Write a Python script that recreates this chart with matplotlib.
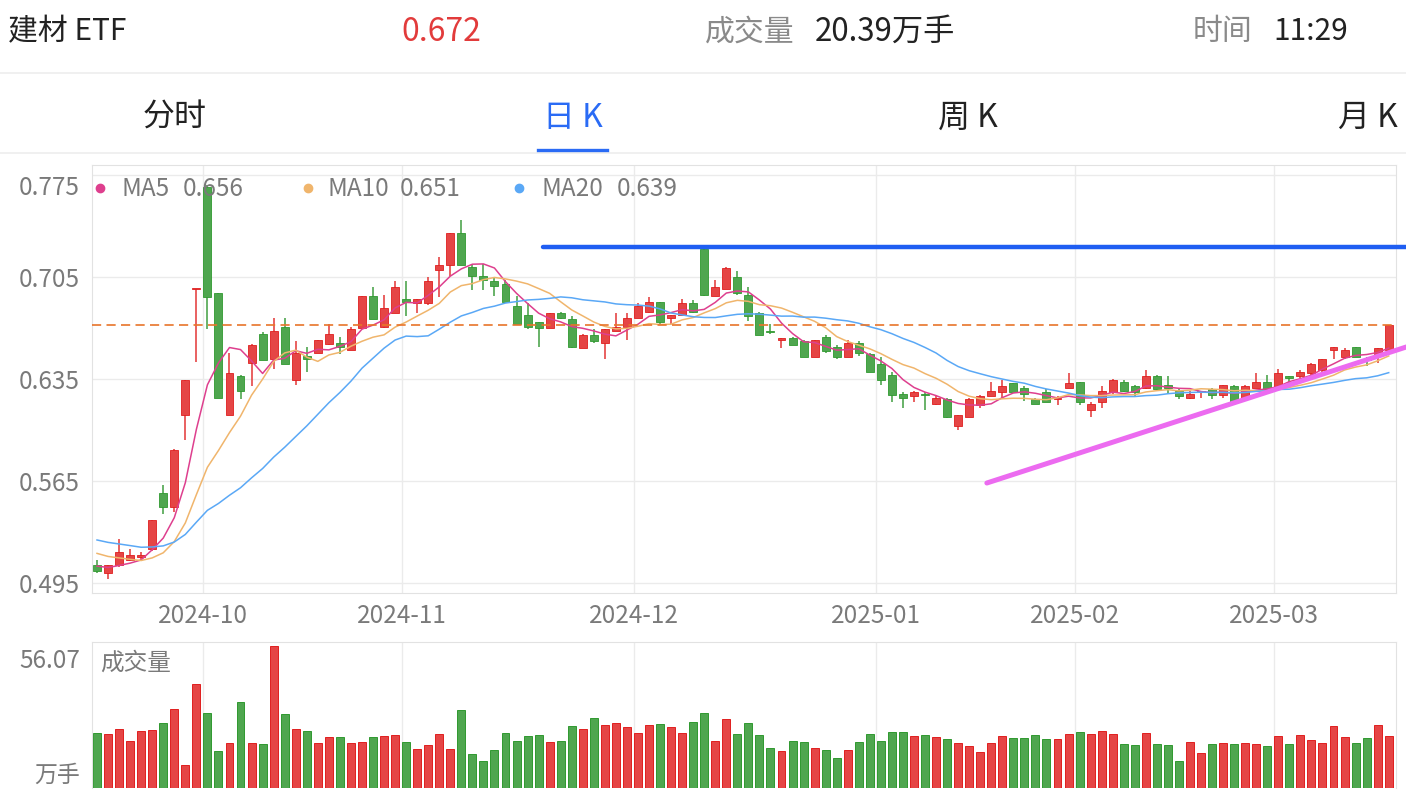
import pandas as pd
import matplotlib.pyplot as plt
from matplotlib.lines import Line2D
from matplotlib.transforms import Affine2D

plt.rcParams['font.family'] = ['Noto Sans CJK SC', 'DejaVu Sans']

#  Daily K data (2024-09-13 .. 2025-03-17), index = trading day

opens = [
    0.507, 0.502, 0.507, 0.511, 0.513, 0.518, 0.557, 0.547, 0.610, 0.697,
    0.767, 0.694, 0.610, 0.637, 0.646, 0.666, 0.649, 0.671, 0.634, 0.651,
    0.653, 0.659, 0.660, 0.655, 0.670, 0.692, 0.671, 0.680, 0.690, 0.687,
    0.687, 0.710, 0.713, 0.735, 0.712, 0.706, 0.702, 0.700, 0.685, 0.679,
    0.674, 0.670, 0.680, 0.676, 0.656, 0.665, 0.660, 0.668, 0.671, 0.677,
    0.681, 0.688, 0.677, 0.679, 0.687, 0.724, 0.692, 0.697, 0.705, 0.693,
    0.680, 0.668, 0.662, 0.663, 0.661, 0.650, 0.664, 0.657, 0.650, 0.660,
    0.652, 0.645, 0.638, 0.625, 0.623, 0.625, 0.618, 0.621, 0.603, 0.609,
    0.617, 0.623, 0.626, 0.632, 0.629, 0.621, 0.626, 0.621, 0.629, 0.633,
    0.614, 0.619, 0.626, 0.633, 0.630, 0.629, 0.637, 0.631, 0.627, 0.622,
    0.626, 0.628, 0.624, 0.630, 0.622, 0.629, 0.633, 0.629, 0.637, 0.637,
    0.639, 0.641, 0.655, 0.650, 0.657, 0.649, 0.652, 0.655]
highs = [
    0.511, 0.507, 0.525, 0.518, 0.516, 0.538, 0.562, 0.587, 0.634, 0.697,
    0.768, 0.694, 0.653, 0.638, 0.659, 0.667, 0.677, 0.677, 0.661, 0.657,
    0.662, 0.673, 0.664, 0.671, 0.692, 0.698, 0.693, 0.702, 0.702, 0.690,
    0.705, 0.719, 0.735, 0.744, 0.714, 0.714, 0.705, 0.703, 0.692, 0.687,
    0.674, 0.680, 0.681, 0.678, 0.666, 0.669, 0.669, 0.680, 0.680, 0.687,
    0.691, 0.688, 0.679, 0.690, 0.689, 0.725, 0.703, 0.712, 0.709, 0.698,
    0.681, 0.673, 0.663, 0.664, 0.662, 0.662, 0.665, 0.658, 0.662, 0.661,
    0.653, 0.650, 0.640, 0.626, 0.627, 0.626, 0.624, 0.622, 0.610, 0.622,
    0.624, 0.633, 0.634, 0.632, 0.630, 0.622, 0.628, 0.623, 0.639, 0.633,
    0.619, 0.630, 0.635, 0.634, 0.631, 0.641, 0.638, 0.637, 0.628, 0.627,
    0.627, 0.629, 0.631, 0.631, 0.631, 0.639, 0.638, 0.642, 0.637, 0.641,
    0.646, 0.649, 0.657, 0.656, 0.657, 0.650, 0.656, 0.672]
lows = [
    0.502, 0.498, 0.506, 0.510, 0.510, 0.517, 0.542, 0.544, 0.593, 0.647,
    0.669, 0.622, 0.610, 0.621, 0.630, 0.648, 0.642, 0.645, 0.631, 0.640,
    0.653, 0.658, 0.652, 0.655, 0.670, 0.676, 0.670, 0.680, 0.678, 0.680,
    0.686, 0.691, 0.706, 0.713, 0.696, 0.696, 0.692, 0.688, 0.673, 0.669,
    0.657, 0.670, 0.676, 0.656, 0.656, 0.660, 0.649, 0.668, 0.662, 0.677,
    0.680, 0.673, 0.673, 0.678, 0.680, 0.692, 0.692, 0.697, 0.693, 0.675,
    0.665, 0.666, 0.656, 0.658, 0.650, 0.650, 0.653, 0.649, 0.650, 0.651,
    0.640, 0.631, 0.619, 0.615, 0.619, 0.614, 0.617, 0.608, 0.600, 0.609,
    0.615, 0.623, 0.621, 0.626, 0.620, 0.618, 0.619, 0.617, 0.629, 0.617,
    0.609, 0.615, 0.625, 0.626, 0.623, 0.628, 0.627, 0.625, 0.621, 0.621,
    0.622, 0.621, 0.622, 0.619, 0.622, 0.629, 0.627, 0.629, 0.631, 0.636,
    0.638, 0.640, 0.649, 0.649, 0.650, 0.644, 0.646, 0.655]
closes = [
    0.503, 0.507, 0.516, 0.514, 0.514, 0.538, 0.547, 0.586, 0.634, 0.697,
    0.691, 0.622, 0.639, 0.627, 0.658, 0.648, 0.668, 0.645, 0.653, 0.649,
    0.662, 0.666, 0.657, 0.669, 0.692, 0.676, 0.684, 0.698, 0.688, 0.690,
    0.702, 0.713, 0.735, 0.713, 0.706, 0.703, 0.699, 0.688, 0.673, 0.671,
    0.670, 0.680, 0.677, 0.657, 0.665, 0.661, 0.669, 0.671, 0.677, 0.685,
    0.688, 0.674, 0.679, 0.687, 0.681, 0.693, 0.698, 0.711, 0.694, 0.678,
    0.665, 0.667, 0.663, 0.658, 0.650, 0.662, 0.654, 0.650, 0.660, 0.653,
    0.640, 0.634, 0.624, 0.622, 0.626, 0.624, 0.622, 0.609, 0.610, 0.621,
    0.623, 0.627, 0.630, 0.626, 0.625, 0.618, 0.619, 0.622, 0.632, 0.619,
    0.618, 0.627, 0.634, 0.627, 0.626, 0.637, 0.628, 0.629, 0.623, 0.625,
    0.627, 0.624, 0.631, 0.619, 0.630, 0.633, 0.628, 0.639, 0.636, 0.640,
    0.645, 0.649, 0.657, 0.655, 0.650, 0.648, 0.656, 0.672]
# 成交量 (万手)
volumes = [
    21.6, 21.1, 23.4, 18.7, 22.6, 23.0, 25.6, 31.0, 9.1, 40.8,
    29.6, 14.5, 17.9, 33.8, 17.8, 17.4, 56.07, 29.2, 23.4, 22.4,
    17.7, 19.9, 20.2, 17.7, 18.3, 19.9, 20.4, 20.7, 18.2, 15.2,
    16.9, 21.2, 15.3, 30.7, 13.3, 10.6, 14.9, 21.8, 18.5, 20.6,
    20.8, 18.1, 18.6, 24.4, 23.1, 27.6, 24.7, 25.5, 24.1, 21.5,
    24.8, 25.3, 24.0, 21.6, 26.0, 29.7, 18.7, 27.0, 21.1, 25.6,
    20.7, 15.8, 14.5, 18.7, 18.3, 15.7, 14.8, 12.0, 15.0, 18.2,
    21.1, 18.7, 21.9, 21.9, 20.4, 20.7, 20.1, 19.5, 17.9, 16.5,
    14.2, 17.9, 20.6, 19.8, 19.7, 20.7, 19.4, 19.4, 21.2, 22.2,
    21.2, 22.3, 21.4, 17.2, 16.8, 21.5, 17.2, 16.9, 10.7, 18.1,
    13.7, 17.5, 17.8, 17.2, 17.9, 17.5, 16.5, 20.3, 17.2, 20.7,
    19.1, 17.7, 24.5, 20.1, 17.7, 19.7, 24.7, 20.39]
# closes before the window, only used to warm up the moving averages
pre_closes = [0.540, 0.538, 0.536, 0.537, 0.534, 0.532, 0.533, 0.530, 0.529, 0.528,
              0.528, 0.526, 0.524, 0.522, 0.520, 0.512, 0.509, 0.506, 0.503]

month_labels = ["2024-10", "2024-11", "2024-12", "2025-01", "2025-02", "2025-03"]
month_first = [10, 28, 49, 71, 89, 107]
price_ticks = [0.495, 0.565, 0.635, 0.705, 0.775]
vol_max = 56.07
last_price = 0.672

# hand drawn lines
resist_level = 0.7256
resist_x = [40.4, 118.6]
trend_x = [80.6, 118.6]
trend_y = [0.5636, 0.657]

RED, RED_E = "#E54545", "#E01E1E"
GREEN, GREEN_E = "#4FA64F", "#2F992F"
GRAY = "#7A7A7A"
GRID = "#EBEBEB"

#  Moving averages

s = pd.Series(pre_closes + closes)
n0 = len(pre_closes)
ma = {k: s.rolling(k).mean().iloc[n0:].values for k in (5, 10, 20)}
ma_colors = {5: "#DE3F8E", 10: "#F0B56C", 20: "#5AA8F6"}

#  Figure

W, H = 1406, 802
fig = plt.figure(figsize=(W / 100, H / 100), dpi=100)
px = Affine2D().scale(1 / W, -1 / H).translate(0, 1) + fig.transFigure

xl = (-0.453, 117.66)
ax = fig.add_axes([92 / W, 1 - 593 / H, 1304 / W, 428 / H])
axv = fig.add_axes([92 / W, 1 - 788 / H, 1304 / W, 146 / H])

idx = list(range(len(closes)))
up = [c >= o for o, c in zip(opens, closes)]
fill = [RED if u else GREEN for u in up]
edge = [RED_E if u else GREEN_E for u in up]

# candles
ax.vlines(idx, lows, highs, colors=fill, lw=1.2, zorder=2)
body_low = [min(o, c) for o, c in zip(opens, closes)]
body_h = [max(abs(c - o), 0.0008) for o, c in zip(opens, closes)]
ax.bar(idx, body_h, bottom=body_low, width=0.72, color=fill, edgecolor=edge,
       linewidth=0.6, zorder=2)

for k in (5, 10, 20):
    ax.plot(idx, ma[k], color=ma_colors[k], lw=1.1, zorder=3)

ax.axhline(last_price, color="#E8742A", lw=1.2, ls=(0, (5.5, 3.2)), zorder=4)
ax.plot(resist_x, [resist_level] * 2, color="#1F5EF2", lw=3.2,
        solid_capstyle="round", clip_on=False, zorder=5)
ax.plot(trend_x, trend_y, color="#EC6BF0", lw=3.6, solid_capstyle="round",
        clip_on=False, zorder=5)

ax.set_xlim(xl)
ax.set_ylim(0.495 - 0.0069, 0.775 + 0.0069)
ax.set_yticks(price_ticks)
ax.set_yticklabels([f"{t:.3f}" for t in price_ticks])
ax.get_yticklabels()[-1].set_va("top")
ax.set_xticks([m - 0.4 for m in month_first])
ax.set_xticklabels(month_labels)
ax.tick_params(length=0, colors=GRAY, labelsize=17.5)
ax.tick_params(axis="y", pad=9)
ax.tick_params(axis="x", pad=7)
ax.grid(color=GRID, lw=1)
ax.set_axisbelow(True)
for sp in ax.spines.values():
    sp.set_color("#E2E2E2")

# volume
axv.bar(idx, volumes, width=0.72, color=fill, edgecolor=edge, linewidth=0.7)
axv.set_xlim(xl)
axv.set_ylim(0, vol_max * 146 / 142.3)
axv.set_xticks([m - 0.4 for m in month_first])
axv.set_yticks([])
axv.tick_params(length=0, labelbottom=False)
axv.grid(axis="x", color=GRID, lw=1)
axv.set_axisbelow(True)
for sp in axv.spines.values():
    sp.set_color("#E2E2E2")
axv.spines["bottom"].set_visible(False)

fig.text(80, 661, f"{vol_max:.2f}", transform=px, ha="right", va="center", color=GRAY, fontsize=17.5)
fig.text(80, 775, "万手", transform=px, ha="right", va="center", color=GRAY, fontsize=16.5)
fig.text(100, 663, "成交量", transform=px, ha="left", va="center", color=GRAY, fontsize=17)

# MA legend
leg_x = {5: (100, 121, 183), 10: (308, 328, 400), 20: (519, 541, 617)}
for k, (dx, tx, vx) in leg_x.items():
    fig.add_artist(Line2D([dx], [188], transform=px, marker="o", ms=6,
                          color=ma_colors[k], lw=0))
    fig.text(tx, 189, f"MA{k}", transform=px, ha="left", va="center", color=GRAY, fontsize=17.5)
    fig.text(vx, 189, f"{ma[k][-1]:.3f}", transform=px, ha="left", va="center", color=GRAY, fontsize=17.5)

#  Header

fig.text(8, 32, "建材 ETF", transform=px, ha="left", va="center", color="#222222", fontsize=21.5)
fig.text(441, 32, f"{last_price:.3f}", transform=px, ha="center", va="center", color="#E23B3B", fontsize=23)
fig.text(705, 32, "成交量", transform=px, ha="left", va="center", color="#8A8A8A", fontsize=21.5)
fig.text(815, 32, "20.39万手", transform=px, ha="left", va="center", color="#222222", fontsize=22.5)
fig.text(1193, 32, "时间", transform=px, ha="left", va="center", color="#8A8A8A", fontsize=21.5)
fig.text(1273, 32, "11:29", transform=px, ha="left", va="center", color="#222222", fontsize=21.5)

for yy in (73, 153):
    fig.add_artist(Line2D([0, W], [yy, yy], transform=px, color="#EDEDED", lw=1.2))

tabs = ["分时", "日 K", "周 K", "月 K"]
tab_x = [175, 573, 968, 1368]
for t, x in zip(tabs, tab_x):
    c = "#2A6BF5" if t == "日 K" else "#222222"
    fig.text(x, 118, t, transform=px, ha="center", va="center", color=c, fontsize=23)
fig.add_artist(Line2D([538, 607], [150, 150], transform=px, color="#2A6BF5", lw=2.4))

fig.savefig("out.png", dpi=100)
